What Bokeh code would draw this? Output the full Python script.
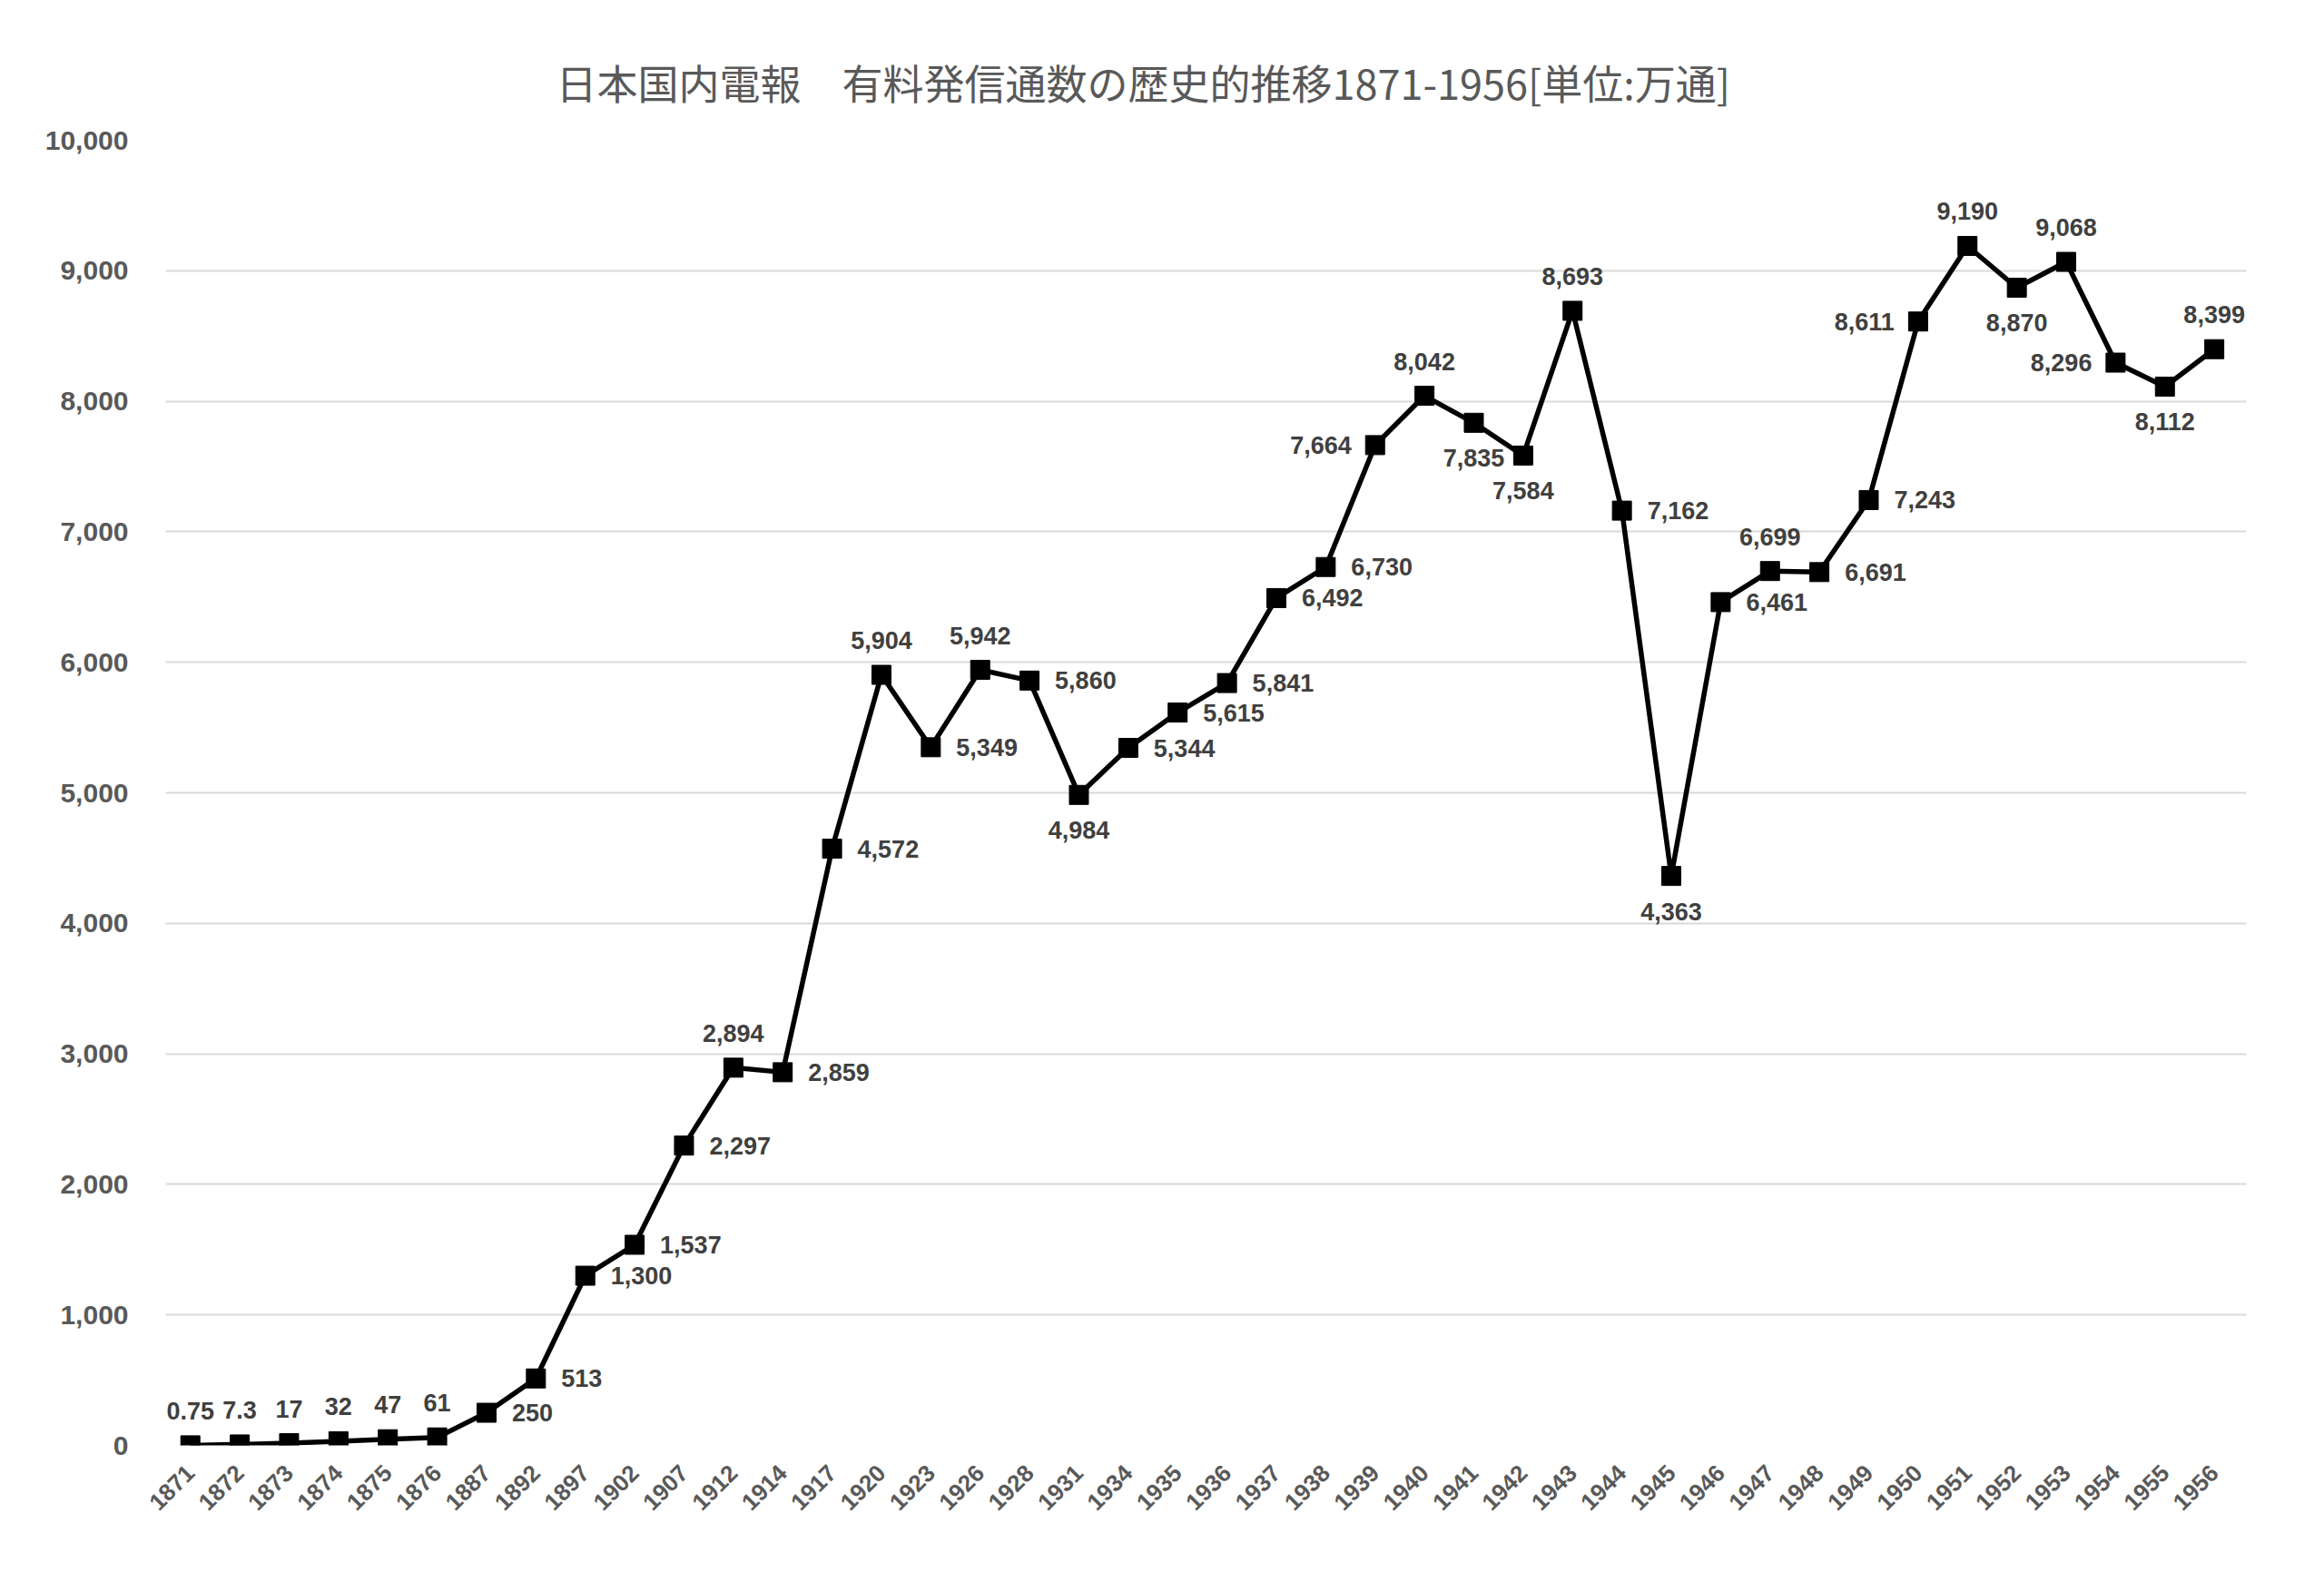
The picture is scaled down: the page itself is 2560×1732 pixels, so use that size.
import math
from bokeh.plotting import figure
from bokeh.models import (Range1d, SingleIntervalTicker, FixedTicker, NumeralTickFormatter,
                          ColumnDataSource, LabelSet, Title)
from bokeh.core.properties import value
from bokeh.embed import file_html
from bokeh.resources import INLINE

years = ["1871", "1872", "1873", "1874", "1875", "1876", "1887", "1892", "1897", "1902",
         "1907", "1912", "1914", "1917", "1920", "1923", "1926", "1928", "1931", "1934",
         "1935", "1936", "1937", "1938", "1939", "1940", "1941", "1942", "1943", "1944",
         "1945", "1946", "1947", "1948", "1949", "1950", "1951", "1952", "1953", "1954",
         "1955", "1956"]
counts = [0.75, 7.3, 17, 32, 47, 61, 250, 513, 1300, 1537,
          2297, 2894, 2859, 4572, 5904, 5349, 5942, 5860, 4984, 5344,
          5615, 5841, 6492, 6730, 7664, 8042, 7835, 7584, 8693, 7162,
          4363, 6461, 6699, 6691, 7243, 8611, 9190, 8870, 9068, 8296,
          8112, 8399]
# placement of each data label: a=above, b=below, r=right, l=left
label_pos = ["a", "a", "a", "a", "a", "a", "r", "r", "r", "r",
             "r", "a", "r", "r", "a", "r", "a", "r", "b", "r",
             "r", "r", "r", "r", "l", "a", "b", "b", "a", "r",
             "b", "r", "a", "r", "r", "l", "a", "b", "a", "l",
             "b", "a"]
title_text = "日本国内電報\u3000有料発信通数の歴史的推移1871-1956[単位:万通]"
y_ticks_interval = 1000


def fmt(v):
    if isinstance(v, float) and not v.is_integer():
        return str(v)
    return f"{int(v):,}"


labels = [fmt(v) for v in counts]
# category slots: each year sits in the middle of its own band
xpos = [i + 0.5 for i in range(len(years))]

p = figure(width=2544, height=1716, output_backend="svg", toolbar_location=None,
           x_range=Range1d(0, len(years) + 0.15),
           y_range=Range1d(0, 10000),
           min_border_left=182, min_border_right=70, min_border_top=154, min_border_bottom=124)
p.title = None
p.outline_line_color = None
p.background_fill_color = "white"

# axes
p.yaxis.ticker = SingleIntervalTicker(interval=y_ticks_interval)
p.yaxis.formatter = NumeralTickFormatter(format="0,0")
p.xaxis.ticker = FixedTicker(ticks=xpos)
p.xaxis.major_label_overrides = {x: y for x, y in zip(xpos, years)}
for ax in (p.xaxis[0], p.yaxis[0]):
    ax.axis_line_color = None
    ax.major_tick_line_color = None
    ax.minor_tick_line_color = None
    ax.major_tick_out = 0
    ax.major_tick_in = 0
    ax.major_label_text_color = "#595959"
    ax.major_label_text_font = "Liberation Sans"
    ax.major_label_text_font_style = "bold"
p.yaxis.major_label_text_font_size = "30px"
p.yaxis.major_label_standoff = 37
p.xaxis.major_label_text_font_size = "26px"
p.xaxis.major_label_orientation = math.pi / 4
p.xaxis.major_label_standoff = 26

p.xgrid.grid_line_color = None
p.ygrid.grid_line_color = "#d9d9d9"
p.ygrid.grid_line_width = 2

src = ColumnDataSource(dict(x=xpos, y=counts, t=labels))
p.line("x", "y", source=src, line_color="black", line_width=5.5)
p.scatter("x", "y", source=src, marker="square", size=21, fill_color="black", line_color="black")

offsets = {"a": (0, 38, "center"), "b": (0, -39, "center"),
           "r": (28, 0, "left"), "l": (-26, 0, "right")}
for key, (dx, dy, align) in offsets.items():
    idx = [i for i, k in enumerate(label_pos) if k == key]
    s = ColumnDataSource(dict(x=[xpos[i] for i in idx], y=[counts[i] for i in idx],
                              t=[labels[i] for i in idx]))
    ls = LabelSet(x="x", y="y", text="t", source=s, x_offset=dx, y_offset=dy,
                  text_align=align, text_baseline="middle",
                  text_font=value("Liberation Sans"), text_font_style="bold",
                  text_font_size="27px", text_color="#404040")
    p.add_layout(ls)

title = Title(text=title_text, align="left", offset=430, standoff=63,
              text_font="Noto Sans CJK JP", text_font_size="45px",
              text_font_style="normal", text_color="#595959")
p.add_layout(title, "above")

open("out.html", "w").write(file_html(p, INLINE))
